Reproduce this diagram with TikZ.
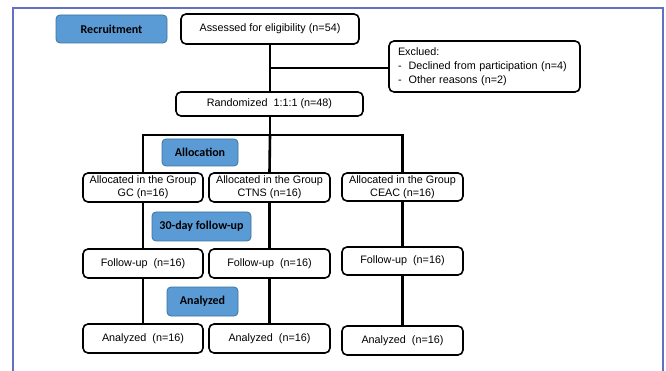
\documentclass[tikz,border=0pt]{standalone}
\usepackage{fontspec}
\setmainfont{Liberation Sans}
\newfontfamily\labelfont{Carlito}
\begin{document}
\begin{tikzpicture}[x=1pt,y=-1pt,
  box/.style={draw=black,line width=1.6pt,rounded corners=5pt,fill=white,
    inner sep=0pt,align=center,font=\fontsize{10.8}{13}\selectfont},
  lbl/.style={draw=lblborder,line width=0.8pt,rounded corners=4pt,fill=lblfill,
    inner sep=0pt,font=\labelfont\bfseries\fontsize{12}{14}\selectfont},
  conn/.style={line width=2.6pt}]
\definecolor{lblfill}{HTML}{5B9BD5}
\definecolor{lblborder}{HTML}{41719C}
\definecolor{frame}{HTML}{6470C0}
\useasboundingbox (0,0) rectangle (666,371);
\draw[frame,line width=2.4pt] (13,371) -- (13,8) -- (663,8) -- (663,371);

\node[lbl,minimum width=111pt,minimum height=28pt] (rec) at (111.5,29) {Recruitment};
\node[box,minimum width=178pt,minimum height=30pt] (ass) at (270,29) {Assessed for eligibility (n=54)};
\node[box,minimum width=191pt,minimum height=51pt,align=left,inner xsep=9pt,text width=173pt,
  font=\fontsize{10.8}{14}\selectfont] (exc) at (484.5,66.5)
  {\begin{tabular}{@{}l@{\hspace{7pt}}l@{}}\multicolumn{2}{@{}l}{Exclued:}\\
   - & Declined from participation (n=4)\\
   - & Other reasons (n=2)\end{tabular}};
\node[box,minimum width=187pt,minimum height=24pt] (rand) at (269.5,104) {Randomized\ \ 1:1:1 (n=48)};

\node[lbl,minimum width=76pt,minimum height=27pt] (alloc) at (200,152.5) {Allocation};
\node[box,minimum width=120pt,minimum height=29pt] (gc) at (143,187.5) {Allocated in the Group\\GC (n=16)};
\node[box,minimum width=121pt,minimum height=29pt] (ctns) at (269.5,187.5) {Allocated in the Group\\CTNS (n=16)};
\node[box,minimum width=121pt,minimum height=28pt] (ceac) at (402.5,187) {Allocated in the Group\\CEAC (n=16)};

\node[lbl,minimum width=99pt,minimum height=29pt] (fu) at (201.5,226.5) {30-day follow-up};
\node[box,minimum width=120pt,minimum height=29pt] (fugc) at (143,263.5) {Follow-up\ \ (n=16)};
\node[box,minimum width=121pt,minimum height=29pt] (fuctns) at (269.5,263.5) {Follow-up\ \ (n=16)};
\node[box,minimum width=121pt,minimum height=28pt] (fuceac) at (402.5,261) {Follow-up\ \ (n=16)};

\node[lbl,minimum width=71pt,minimum height=29pt] (an) at (202.5,301.5) {Analyzed};
\node[box,minimum width=120pt,minimum height=29pt] (angc) at (143,338.5) {Analyzed\ \ (n=16)};
\node[box,minimum width=121pt,minimum height=29pt] (anctns) at (269.5,338.5) {Analyzed\ \ (n=16)};
\node[box,minimum width=121pt,minimum height=29pt] (anceac) at (402.5,340.5) {Analyzed\ \ (n=16)};

\coordinate (exj) at (270,68);
\coordinate (rj) at (270,135);
\coordinate (lj) at (143,135);
\coordinate (cj) at (402.5,135);

\draw[conn] (ass.south -| exj) -- (rand.north -| exj);
\draw[conn] (exj) -- (exc.west |- exj);
\draw[conn] (rand.south -| rj) -- (rj);
\draw[conn,line cap=rect] (lj) -- (cj);
\draw[conn] (lj) -- (gc.north);
\draw[conn] (rj) -- (ctns.north);
\draw[conn] (cj) -- (ceac.north);
\draw[conn] (gc.south) -- (fugc.north);
\draw[conn] (ctns.south) -- (fuctns.north);
\draw[conn] (ceac.south) -- (fuceac.north);
\draw[conn] (fugc.south) -- (angc.north);
\draw[conn] (fuctns.south) -- (anctns.north);
\draw[conn] (fuceac.south) -- (anceac.north);
\end{tikzpicture}
\end{document}
